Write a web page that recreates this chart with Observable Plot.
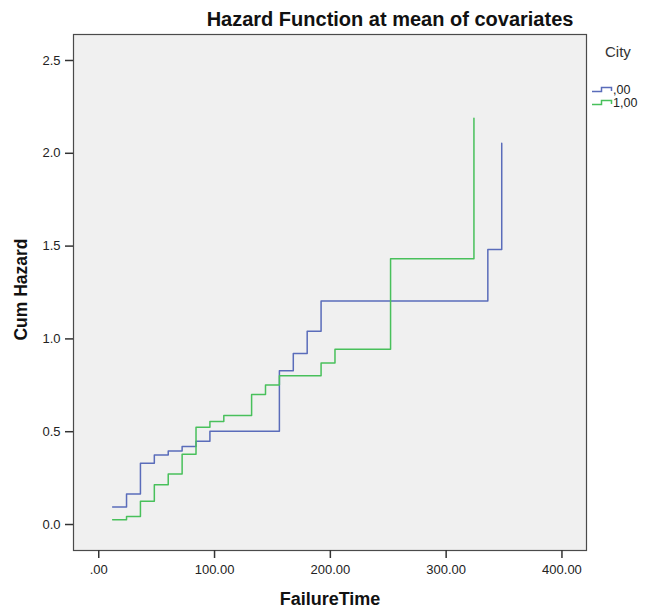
<!DOCTYPE html>
<html>
<head>
<meta charset="utf-8">
<script src="https://cdn.jsdelivr.net/npm/d3@7"></script>
<script src="https://cdn.jsdelivr.net/npm/@observablehq/plot@0.6"></script>
<style>
  html, body { margin: 0; padding: 0; background: #ffffff; }
  #wrap { position: relative; width: 645px; height: 610px; font-family: Arial, "Liberation Sans", sans-serif; }
  #wrap svg.plot { position: absolute; left: 0; top: 0; }
  .leg { position: absolute; line-height: 1; color: #222; white-space: nowrap; }
</style>
</head>
<body>
<div id="wrap"></div>
<script>
// ---- Data ----
const cityLabels = [",00", "1,00"];
const seriesColors = ["#5a6cba", "#48c05b"];

// City ,00
const time00   = [12, 24, 36, 48, 60, 72, 84, 96, 156, 168, 180, 192, 336, 348];
const hazard00 = [0.095, 0.164, 0.330, 0.375, 0.396, 0.420, 0.449, 0.503, 0.829, 0.922, 1.041, 1.204, 1.481, 2.054];

// City 1,00
const time10   = [12, 24, 36, 48, 60, 72, 84, 96, 108, 132, 144, 156, 192, 204, 252, 324];
const hazard10 = [0.025, 0.043, 0.126, 0.214, 0.272, 0.378, 0.524, 0.555, 0.587, 0.701, 0.751, 0.802, 0.870, 0.944, 1.432, 2.189];

const xTicks = [0, 100, 200, 300, 400];
const xTickLabels = [".00", "100.00", "200.00", "300.00", "400.00"];
const yTicks = [0, 0.5, 1.0, 1.5, 2.0, 2.5];
const yTickLabels = ["0.0", "0.5", "1.0", "1.5", "2.0", "2.5"];

const titleText = "Hazard Function at mean of covariates";
const xTitle = "FailureTime";
const yTitle = "Cum Hazard";
const legendTitle = "City";

// ---- Build table ----
const rows = [
  ...time00.map((t, i) => ({time: t, hazard: hazard00[i], city: cityLabels[0]})),
  ...time10.map((t, i) => ({time: t, hazard: hazard10[i], city: cityLabels[1]}))
];

const chart = Plot.plot({
  width: 645,
  height: 610,
  marginLeft: 73,
  marginRight: 59,
  marginTop: 34,
  marginBottom: 60,
  style: {fontFamily: "Arial, 'Liberation Sans', sans-serif", background: "transparent", overflow: "visible"},
  x: {domain: [-21.8, 421.2]},
  y: {domain: [-0.14, 2.64]},
  color: {domain: cityLabels, range: seriesColors},
  marks: [
    Plot.frame({fill: "#f0f0f0", stroke: null}),
    Plot.line(rows, {x: "time", y: "hazard", z: "city", stroke: "city", curve: "step-after", strokeWidth: 1.5}),
    Plot.frame({stroke: "#4a4a4a", strokeWidth: 1.2}),
    Plot.axisX({ticks: xTicks, tickFormat: d => xTickLabels[xTicks.indexOf(d)], tickSize: 8, tickPadding: 6, fontSize: 13, color: "#222", stroke: "#333", strokeWidth: 1.5, label: null}),
    Plot.axisY({ticks: yTicks, tickFormat: d => yTickLabels[yTicks.indexOf(d)], tickSize: 8, tickPadding: 5, fontSize: 13, color: "#222", stroke: "#333", strokeWidth: 1.5, label: null}),
    Plot.text([titleText], {frameAnchor: "top", dx: 60, dy: -14.5, lineAnchor: "middle", textAnchor: "middle", fontSize: 20, fontWeight: "bold", fill: "#111"}),
    Plot.text([xTitle], {frameAnchor: "bottom", dy: 48.5, lineAnchor: "middle", textAnchor: "middle", fontSize: 18, fontWeight: "bold", fill: "#111"}),
    Plot.text([yTitle], {frameAnchor: "left", dx: -52, dy: -3, rotate: -90, lineAnchor: "middle", textAnchor: "middle", fontSize: 17.5, fontWeight: "bold", fill: "#111"})
  ]
});
chart.classList.add("plot");
const wrap = document.getElementById("wrap");
wrap.appendChild(chart);

// ---- Legend (right side) ----
function addText(txt, left, top, size, color) {
  const d = document.createElement("div");
  d.className = "leg";
  d.textContent = txt;
  d.style.left = left + "px";
  d.style.top = top + "px";
  d.style.fontSize = size + "px";
  if (color) d.style.color = color;
  wrap.appendChild(d);
}
function addIcon(color, left, top) {
  const ns = "http://www.w3.org/2000/svg";
  const s = document.createElementNS(ns, "svg");
  s.setAttribute("width", 22);
  s.setAttribute("height", 9);
  s.style.position = "absolute";
  s.style.left = left + "px";
  s.style.top = top + "px";
  const p = document.createElementNS(ns, "path");
  p.setAttribute("d", "M0,6.5 H9.5 V2.5 H19.5 V6");
  p.setAttribute("fill", "none");
  p.setAttribute("stroke", color);
  p.setAttribute("stroke-width", 1.5);
  s.appendChild(p);
  wrap.appendChild(s);
}
addText(legendTitle, 605, 44, 15, "#333");
const rowTops = [83.5, 96.5];
cityLabels.forEach((lab, i) => {
  addIcon(seriesColors[i], 591.5, rowTops[i] + 1.5);
  addText(lab, 613, rowTops[i], 12.5, "#222");
});
</script>
</body>
</html>
